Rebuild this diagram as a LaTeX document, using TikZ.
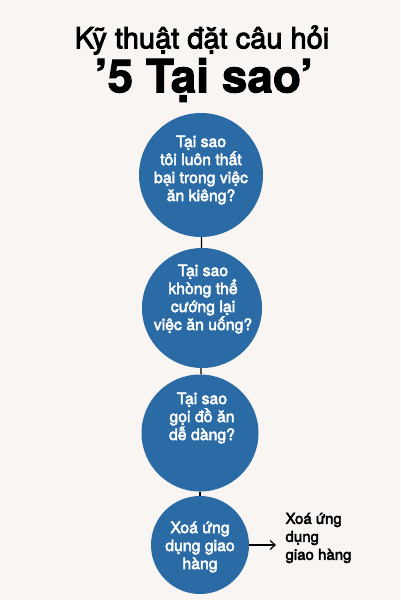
\documentclass[tikz,border=0pt]{standalone}
\usepackage{fontspec}
\setmainfont{TeX Gyre Heros}
\newfontfamily\semib{TeX Gyre Heros}[FakeBold=3]
\newfontfamily\heavy{TeX Gyre Heros Bold}[FakeBold=2]
\usetikzlibrary{arrows.meta}
\definecolor{bg}{HTML}{F8F5F2}
\definecolor{circ}{HTML}{2A6AA5}
\tikzset{
  qcircle/.style={circle, fill=circ, inner sep=0pt},
  qtext/.style={text=white, align=center, inner sep=0pt,
    font=\semib\fontsize{15.8}{18}\selectfont},
  link/.style={draw=black, line width=1.2pt},
  title1/.style={font=\semib\fontsize{29}{32}\selectfont},
  title2/.style={font=\heavy\fontsize{46}{50}\selectfont},
}
\begin{document}
\begin{tikzpicture}[x=1pt,y=-1pt]
\fill[bg] (0,0) rectangle (400,600);
\useasboundingbox (0,0) rectangle (400,600);
\node[title1] (t1) at (202,40) {Kỹ thuật đặt câu hỏi};
\node[title2] (t2) at (204,80) {’5 Tại sao’};
\node[qcircle, minimum size=124pt] (c1) at (201,175) {};
\node[qcircle, minimum size=120pt] (c2) at (202,308) {};
\node[qcircle, minimum size=117pt] (c3) at (200,433) {};
\node[qcircle, minimum size=98pt] (c4) at (200,545) {};
\node[qtext] (l1) at (201,170) {Tại sao\\tôi luôn thất\\bại trong việc\\ăn kiêng?};
\node[qtext] (l2) at (203,299) {Tại sao\\khòng thể\\cướng lại\\việc ăn uống?};
\node[qtext] (l3) at (202,418) {Tại sao\\gọi đồ ăn\\dễ dàng?};
\node[qtext] (l4) at (200,547) {Xoá ứng\\dụng giao\\hàng};
\draw[link] (c1) -- (c2);
\draw[link] (c2) -- (c3);
\draw[link] (c3) -- (c4);
\coordinate (ae) at (276,545);
\draw[link, -{Straight Barb[length=5pt,width=9pt]}] (c4.east) -- (ae);
\node[anchor=west, align=left, font=\semib\fontsize{15}{18}\selectfont] (out) at (282,538) {Xoá ứng\\dụng\\giao hàng};
\end{tikzpicture}
\end{document}
